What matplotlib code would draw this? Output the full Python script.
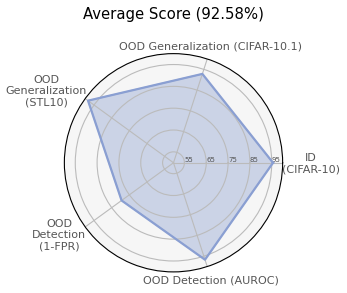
import numpy as np
import matplotlib.pyplot as plt

# === DATA ===
categories = ['ID\n(CIFAR-10)', 'OOD Generalization (CIFAR-10.1)', 'OOD\nGeneralization\n(STL10)',
              'OOD\nDetection\n(1-FPR)', 'OOD Detection (AUROC)']
scores = [95.6, 92.8, 98.4, 79.4, 96.7]
r_ticks = [55, 65, 75, 85, 95]
title = 'Average Score (92.58%)'

# label offsets from the outer ring, in points
label_offsets = [(20.5, -1), (2.4, 9.1), (-27.9, 5.3), (-18.9, -6), (2.4, -10.1)]

# === PLOT ===
angles = np.linspace(0, 2 * np.pi, len(categories), endpoint=False)
closed_angles = np.append(angles, angles[0])
closed_scores = scores + scores[:1]

fig = plt.figure(figsize=(3.47, 2.93), dpi=100)
ax = fig.add_axes([0.185, 0.072, 0.63, 0.745], polar=True)
ax.set_facecolor('#f6f6f6')

ax.plot(closed_angles, closed_scores, color='#8a9fd2', linewidth=1.6)
ax.fill(closed_angles, closed_scores, color='#4c6cb8', alpha=0.25)

ax.set_ylim(50, 100)
ax.set_yticks(r_ticks)
ax.set_yticklabels([str(t) for t in r_ticks], fontsize=5, color='#555555')
ax.set_rlabel_position(0)
for lab in ax.get_yticklabels():
    lab.set_horizontalalignment('left')
    lab.set_verticalalignment('bottom')

ax.set_xticks(angles)
ax.set_xticklabels([])
for ang, lab, off in zip(angles, categories, label_offsets):
    ax.annotate(lab, xy=(ang, 100), xytext=off, textcoords='offset points',
                ha='center', va='center', multialignment='center',
                fontsize=8, color='#555555', annotation_clip=False)

ax.grid(color='#bbbbbb', linewidth=0.8)
ax.spines['polar'].set_color('black')
ax.spines['polar'].set_linewidth(0.8)

fig.suptitle(title, fontsize=10.7, y=0.975)
fig.savefig('out.png', dpi=100)
